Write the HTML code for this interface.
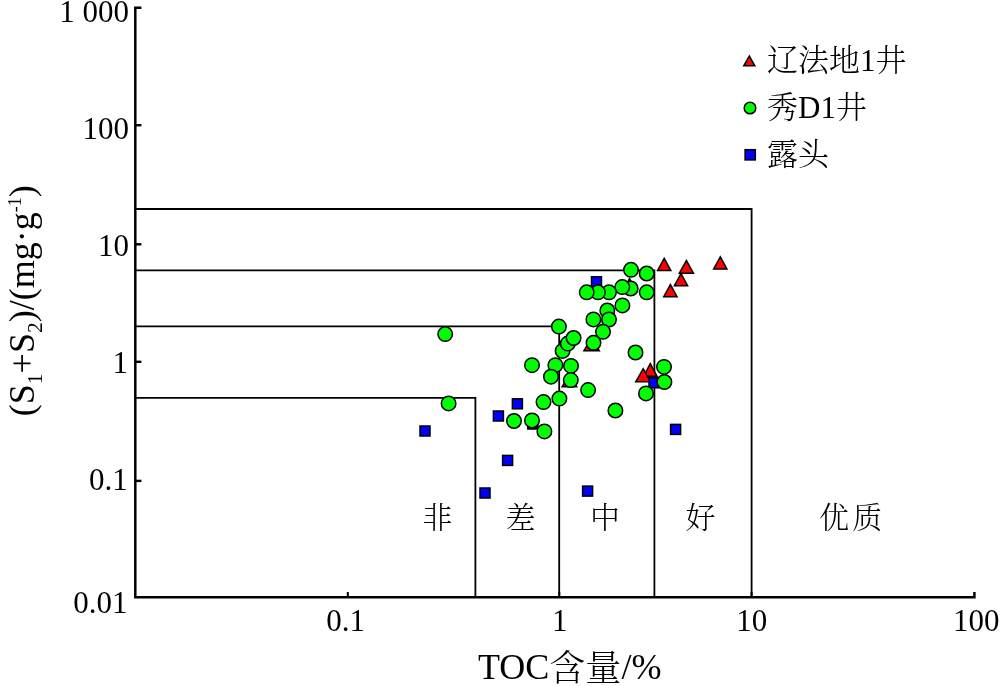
<!DOCTYPE html>
<html lang="zh">
<head>
<meta charset="utf-8">
<title>TOC含量 与 (S1+S2) 关系图</title>
<style>
html,body{margin:0;padding:0;background:#fff;}
body{width:1000px;height:686px;overflow:hidden;}
svg{display:block;}
text{font-family:"Liberation Serif","Noto Serif CJK SC",serif;fill:#000;}
.tk{font-size:31px;}
.tt{font-size:36px;font-weight:300;}
.cj{font-size:30px;font-weight:300;}
.lg{font-size:31px;font-weight:300;}
</style>
</head>
<body>
<svg width="1000" height="686" viewBox="0 0 1000 686">
<rect width="1000" height="686" fill="#fff"/>

<g fill="none" stroke="#000" stroke-width="1.8">
<path d="M135 209H751.6V597"/>
<path d="M135 270.4H654.4V597"/>
<path d="M135 326.4H559.2V597"/>
<path d="M135 397.8H475.4V597"/>
</g>
<g fill="none" stroke="#000" stroke-width="2.5">
<path d="M141.4 7.7H135.3V597.3H974.4V592"/>
</g>
<g fill="none" stroke="#000" stroke-width="2.4">
<path d="M135 125.2H141.4"/>
<path d="M135 244.3H141.4"/>
<path d="M135 361.8H141.4"/>
<path d="M135 480.9H141.4"/>
</g>
<g fill="none" stroke="#000" stroke-width="2">
<path d="M347.8 597V592"/>
<path d="M559.3 597V592"/>
<path d="M751.6 597V592"/>
</g>
<g class="tk" text-anchor="end">
<text x="129" y="21.6">1 000</text>
<text x="129" y="138.6">100</text>
<text x="129" y="256">10</text>
<text x="128" y="373">1</text>
<text x="127.8" y="490">0.1</text>
<text x="127.6" y="612.5">0.01</text>
</g>
<g class="tk" text-anchor="middle">
<text x="345.5" y="631">0.1</text>
<text x="559.7" y="631">1</text>
<text x="751.8" y="631">10</text>
<text x="976.3" y="631">100</text>
</g>
<text class="tt" x="478" y="679.3">TOC<tspan dy="1.8">含量</tspan><tspan dy="-1.8">/%</tspan></text>
<text class="tt" transform="translate(34,416.2) rotate(-90)">(S<tspan font-size="21.6" dy="8">1</tspan><tspan dy="-8">+S</tspan><tspan font-size="21.6" dy="8">2</tspan><tspan dy="-8">)/(mg·g</tspan><tspan font-size="18" dy="-13">-1</tspan><tspan dy="13">)</tspan></text>
<g class="cj">
<text x="422.5" y="528">非</text>
<text x="505.5" y="528">差</text>
<text x="590" y="528">中</text>
<text x="685.5" y="528">好</text>
<text x="819" y="528" letter-spacing="3.2">优质</text>
</g>
<g class="lg">
<text x="767" y="71">辽法地1井</text>
<text x="767" y="117.5">秀D1井</text>
<text x="767" y="165">露头</text>
</g>
<g stroke="#000" stroke-width="1.5" stroke-linejoin="miter">
<g fill="#f00"><path d="M743.78 65.85L754.82 65.85L749.30 55.94Z"/></g>
<circle cx="750" cy="108" r="5.8" fill="#0f0"/>
<rect x="745.1" y="149.7" width="10.2" height="10.2" fill="#00f"/>
</g>
<g stroke="#000" stroke-width="1.5">
<g fill="#f00">
<path d="M657.57 270.45L670.83 270.45L664.20 258.36Z"/>
<path d="M674.37 285.65L687.63 285.65L681.00 273.56Z"/>
<path d="M679.33 273.25L693.47 273.25L686.40 260.63Z"/>
<path d="M713.67 268.95L726.93 268.95L720.30 256.86Z"/>
<path d="M663.77 296.75L677.03 296.75L670.40 284.66Z"/>
<path d="M622.87 290.75L636.13 290.75L629.50 278.66Z"/>
<path d="M583.92 350.65L599.28 350.65L591.60 337.86Z"/>
<path d="M562.16 386.65L576.64 386.65L569.40 374.28Z"/>
<path d="M643.64 376.25L656.96 376.25L650.30 363.61Z"/>
<path d="M635.74 381.85L650.66 381.85L643.20 368.72Z"/>
</g>
<g fill="#00f">
<rect x="591.50" y="276.80" width="10.0" height="10.0"/>
<rect x="512.40" y="398.80" width="10.0" height="10.0"/>
<rect x="493.40" y="411.00" width="10.0" height="10.0"/>
<rect x="420.00" y="426.00" width="10.0" height="10.0"/>
<rect x="527.80" y="419.00" width="10.0" height="10.0"/>
<rect x="502.60" y="455.40" width="10.0" height="10.0"/>
<rect x="480.00" y="488.00" width="10.0" height="10.0"/>
<rect x="582.60" y="486.10" width="10.0" height="10.0"/>
<rect x="649.00" y="377.80" width="10.0" height="10.0"/>
<rect x="670.60" y="424.40" width="10.0" height="10.0"/>
</g>
<g fill="#0f0">
<circle cx="631.0" cy="269.80" r="7.25"/>
<circle cx="646.7" cy="273.50" r="7.25"/>
<circle cx="646.7" cy="292.30" r="7.25"/>
<circle cx="630.7" cy="288.50" r="7.25"/>
<circle cx="622.3" cy="287.10" r="7.25"/>
<circle cx="609.0" cy="292.30" r="7.25"/>
<circle cx="598.0" cy="292.30" r="7.25"/>
<circle cx="586.7" cy="292.30" r="7.25"/>
<circle cx="622.4" cy="305.40" r="7.25"/>
<circle cx="607.3" cy="310.50" r="7.25"/>
<circle cx="609.0" cy="319.50" r="7.25"/>
<circle cx="593.4" cy="319.40" r="7.25"/>
<circle cx="603.0" cy="331.80" r="7.25"/>
<circle cx="593.5" cy="342.80" r="7.25"/>
<circle cx="558.9" cy="326.60" r="7.25"/>
<circle cx="562.6" cy="350.90" r="7.25"/>
<circle cx="567.8" cy="343.60" r="7.25"/>
<circle cx="573.6" cy="338.00" r="7.25"/>
<circle cx="635.5" cy="352.50" r="7.25"/>
<circle cx="445.2" cy="334.10" r="7.25"/>
<circle cx="448.6" cy="403.40" r="7.25"/>
<circle cx="532.0" cy="365.20" r="7.25"/>
<circle cx="555.4" cy="365.20" r="7.25"/>
<circle cx="571.0" cy="365.90" r="7.25"/>
<circle cx="551.0" cy="376.70" r="7.25"/>
<circle cx="570.8" cy="380.10" r="7.25"/>
<circle cx="588.1" cy="390.10" r="7.25"/>
<circle cx="559.4" cy="398.60" r="7.25"/>
<circle cx="543.5" cy="402.10" r="7.25"/>
<circle cx="514.0" cy="421.00" r="7.25"/>
<circle cx="532.0" cy="420.40" r="7.25"/>
<circle cx="544.4" cy="431.40" r="7.25"/>
<circle cx="664.0" cy="366.90" r="7.25"/>
<circle cx="664.4" cy="382.00" r="7.25"/>
<circle cx="646.0" cy="393.40" r="7.25"/>
<circle cx="615.4" cy="410.50" r="7.25"/>
</g>
</g>
</svg>
</body>
</html>
